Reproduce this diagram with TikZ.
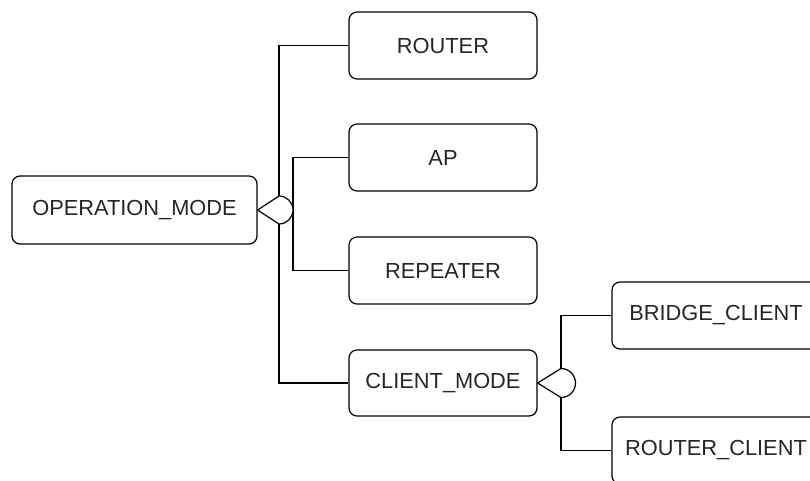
\documentclass[tikz,border=0pt]{standalone}
\usepackage{fontspec}
\setmainfont{Liberation Sans}
\begin{document}
\begin{tikzpicture}[x=1pt,y=-1pt,
  line width=1.2pt,
  box/.style={draw=black, rounded corners=8pt, minimum width=188pt, minimum height=67pt,
    inner sep=0pt, font=\fontsize{21.8pt}{26pt}\selectfont, text=black!85},
  wire/.style={draw=black},
  hub/.style={draw=black, fill=white}]
\useasboundingbox (0,0) rectangle (810,480);
\clip (0,0) rectangle (810,480);

% boxes
\node[box, minimum width=245pt, minimum height=68pt] (om) at (134.5,210) {OPERATION\_MODE};
\node[box] (router) at (443,45.5) {ROUTER};
\node[box] (ap) at (443,157.5) {AP};
\node[box] (rep) at (443,270.5) {REPEATER};
\node[box, minimum height=66pt] (cm) at (443,383) {CLIENT\_MODE};
\node[box, minimum width=208pt] (bc) at (716,315.5) {BRIDGE\_CLIENT};
\node[box, minimum width=208pt] (rc) at (716,450.5) {ROUTER\_CLIENT};

% junction points of the two groups
\coordinate (h1) at (279,210);
\coordinate (h1r) at (293,210);
\coordinate (h2) at (561,383);

% connectors
\draw[wire] (h1) |- (router.west);
\draw[wire] (h1) |- (cm.west);
\draw[wire] (h1r) |- (ap.west);
\draw[wire] (h1r) |- (rep.west);
\draw[wire] (h2) |- (bc.west);
\draw[wire] (h2) |- (rc.west);

% group markers
\draw[hub] (om.east) -- ([yshift=14pt]h1) arc[start angle=90, end angle=-90, radius=14pt] -- cycle;
\draw[hub] (cm.east) -- ([yshift=14.5pt]h2) arc[start angle=90, end angle=-90, radius=14.5pt] -- cycle;
\end{tikzpicture}
\end{document}
